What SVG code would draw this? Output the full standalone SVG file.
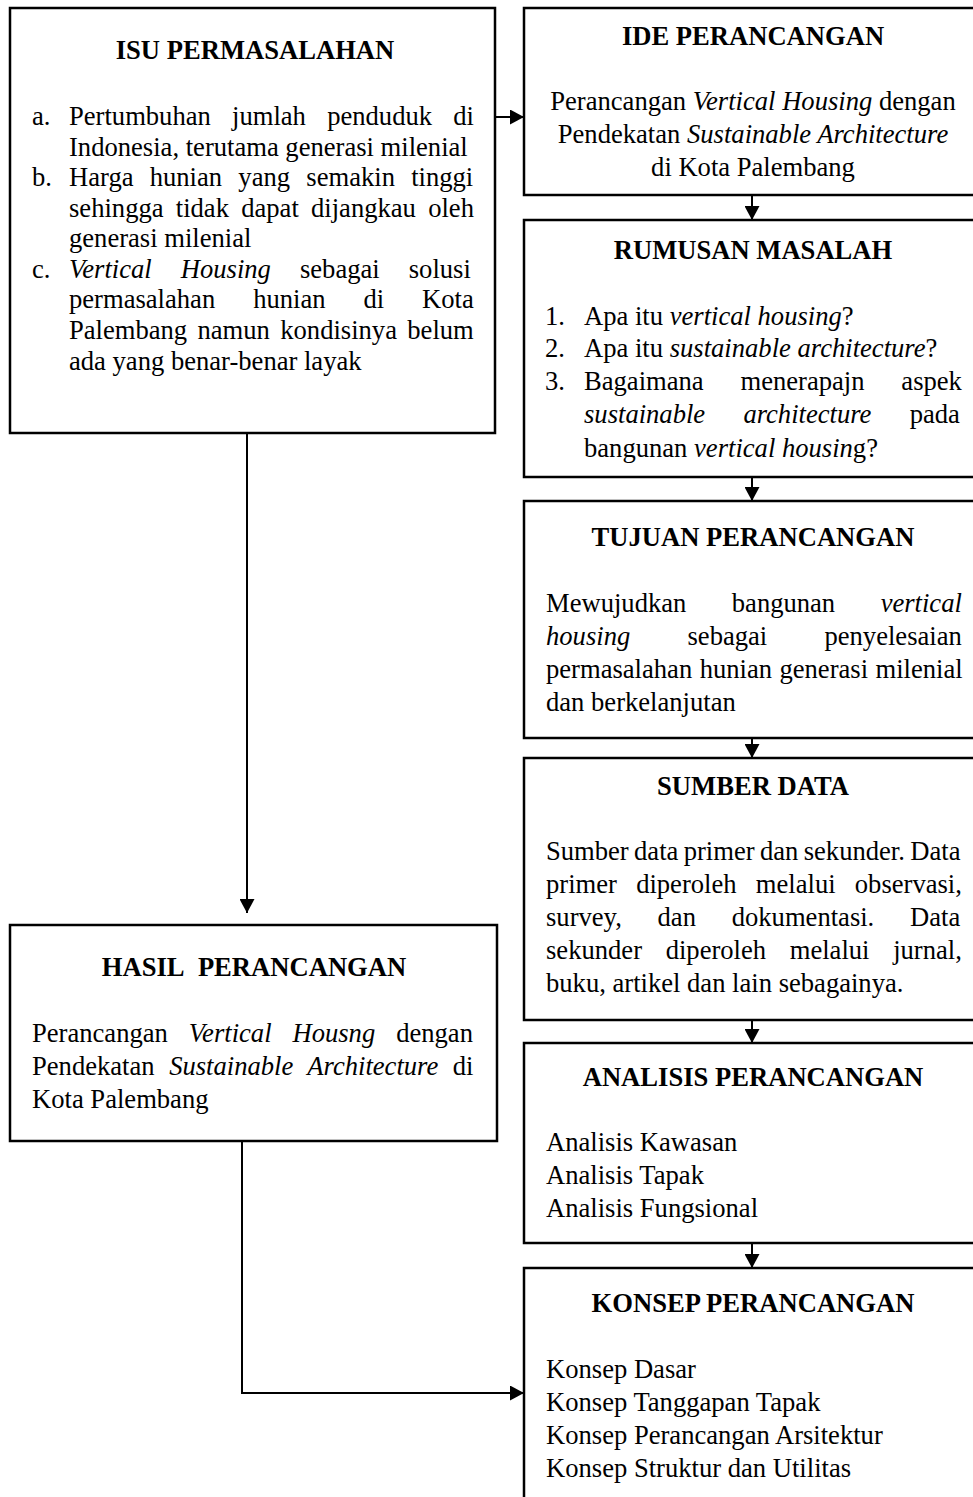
<svg xmlns="http://www.w3.org/2000/svg" width="973" height="1497" viewBox="0 0 973 1497">
<style>
.box{fill:#fff;stroke:#000;stroke-width:2.5}
.con{fill:none;stroke:#000;stroke-width:2}
text{font-family:"Liberation Serif","Times New Roman",serif;font-size:26.6px;fill:#000}
.h{font-weight:bold;text-anchor:middle}
.c{text-anchor:middle}
.i{font-style:italic}
</style>
<defs>
<marker id="arr" markerUnits="userSpaceOnUse" markerWidth="15" markerHeight="15" refX="14" refY="7.5" orient="auto">
<path d="M0,0 L14,7.5 L0,15 z" fill="#000"/>
</marker>
</defs>
<rect width="973" height="1497" fill="#fff"/>
<g id="connectors">
<line class="con" x1="495" y1="117" x2="524" y2="117" marker-end="url(#arr)"/>
<line class="con" x1="752" y1="195" x2="752" y2="220" marker-end="url(#arr)"/>
<line class="con" x1="752" y1="477" x2="752" y2="501" marker-end="url(#arr)"/>
<line class="con" x1="752" y1="738" x2="752" y2="758" marker-end="url(#arr)"/>
<line class="con" x1="752" y1="1020" x2="752" y2="1043" marker-end="url(#arr)"/>
<line class="con" x1="752" y1="1243" x2="752" y2="1268" marker-end="url(#arr)"/>
<line class="con" x1="247" y1="433" x2="247" y2="913" marker-end="url(#arr)"/>
<path class="con" d="M242,1141 L242,1393 L524,1393" marker-end="url(#arr)"/>
</g>
<g id="isu">
<rect class="box" x="10" y="8" width="485" height="425"/>
<text class="h" x="255" y="59">ISU PERMASALAHAN</text>
<text x="32" y="125">a.</text>
<text x="69" y="125" word-spacing="14.6">Pertumbuhan jumlah penduduk di</text>
<text x="69" y="156">Indonesia, terutama generasi milenial</text>
<text x="32" y="186">b.</text>
<text x="69" y="186" word-spacing="9.6">Harga hunian yang semakin tinggi</text>
<text x="69" y="217" word-spacing="5.6">sehingga tidak dapat dijangkau oleh</text>
<text x="69" y="247">generasi milenial</text>
<text x="32" y="278">c.</text>
<text x="69" y="278" word-spacing="22.4"><tspan class="i">Vertical Housing</tspan> sebagai solusi</text>
<text x="69" y="308" word-spacing="31.3">permasalahan hunian di Kota</text>
<text x="69" y="339" word-spacing="3.7">Palembang namun kondisinya belum</text>
<text x="69" y="370">ada yang benar-benar layak</text>
</g>
<g id="ide">
<rect class="box" x="524" y="8" width="460" height="187"/>
<text class="h" x="753" y="45">IDE PERANCANGAN</text>
<text class="c" x="753" y="110">Perancangan <tspan class="i">Vertical Housing</tspan> dengan</text>
<text class="c" x="753" y="143">Pendekatan <tspan class="i">Sustainable Architecture</tspan></text>
<text class="c" x="753" y="176">di Kota Palembang</text>
</g>
<g id="rumusan">
<rect class="box" x="524" y="220" width="460" height="257"/>
<text class="h" x="753" y="259">RUMUSAN MASALAH</text>
<text x="545" y="325">1.</text>
<text x="584" y="325">Apa itu <tspan class="i">vertical housing</tspan>?</text>
<text x="545" y="357">2.</text>
<text x="584" y="357">Apa itu <tspan class="i">sustainable architecture</tspan>?</text>
<text x="545" y="390">3.</text>
<text x="584" y="390" word-spacing="30.2">Bagaimana menerapajn aspek</text>
<text x="584" y="423" word-spacing="31.6"><tspan class="i">sustainable architecture</tspan> pada</text>
<text x="584" y="457">bangunan <tspan class="i">vertical housin</tspan>g?</text>
</g>
<g id="tujuan">
<rect class="box" x="524" y="501" width="460" height="237"/>
<text class="h" x="753" y="546">TUJUAN PERANCANGAN</text>
<text x="546" y="612" word-spacing="38.8">Mewujudkan bangunan <tspan class="i">vertical</tspan></text>
<text x="546" y="645" word-spacing="50.6"><tspan class="i">housing</tspan> sebagai penyelesaian</text>
<text x="546" y="678" word-spacing="0.8">permasalahan hunian generasi milenial</text>
<text x="546" y="711">dan berkelanjutan</text>
</g>
<g id="sumber">
<rect class="box" x="524" y="758" width="460" height="262"/>
<text class="h" x="753" y="795">SUMBER DATA</text>
<text x="546" y="860" word-spacing="-1.3">Sumber data primer dan sekunder. Data</text>
<text x="546" y="893" word-spacing="12.6">primer diperoleh melalui observasi,</text>
<text x="546" y="926" word-spacing="29.1">survey, dan dokumentasi. Data</text>
<text x="546" y="959" word-spacing="17">sekunder diperoleh melalui jurnal,</text>
<text x="546" y="992">buku, artikel dan lain sebagainya.</text>
</g>
<g id="analisis">
<rect class="box" x="524" y="1043" width="460" height="200"/>
<text class="h" x="753" y="1086">ANALISIS PERANCANGAN</text>
<text x="546" y="1151">Analisis Kawasan</text>
<text x="546" y="1184">Analisis Tapak</text>
<text x="546" y="1217">Analisis Fungsional</text>
</g>
<g id="konsep">
<rect class="box" x="524" y="1268" width="460" height="240"/>
<text class="h" x="753" y="1312">KONSEP PERANCANGAN</text>
<text x="546" y="1378">Konsep Dasar</text>
<text x="546" y="1411">Konsep Tanggapan Tapak</text>
<text x="546" y="1444">Konsep Perancangan Arsitektur</text>
<text x="546" y="1477">Konsep Struktur dan Utilitas</text>
</g>
<g id="hasil">
<rect class="box" x="10" y="925" width="487" height="216"/>
<text class="h" x="254" y="976">HASIL&#160; PERANCANGAN</text>
<text x="32" y="1042" word-spacing="14.3">Perancangan <tspan class="i">Vertical Housng</tspan> dengan</text>
<text x="32" y="1075" word-spacing="7.9">Pendekatan <tspan class="i">Sustainable Architecture</tspan> di</text>
<text x="32" y="1108">Kota Palembang</text>
</g>
</svg>
